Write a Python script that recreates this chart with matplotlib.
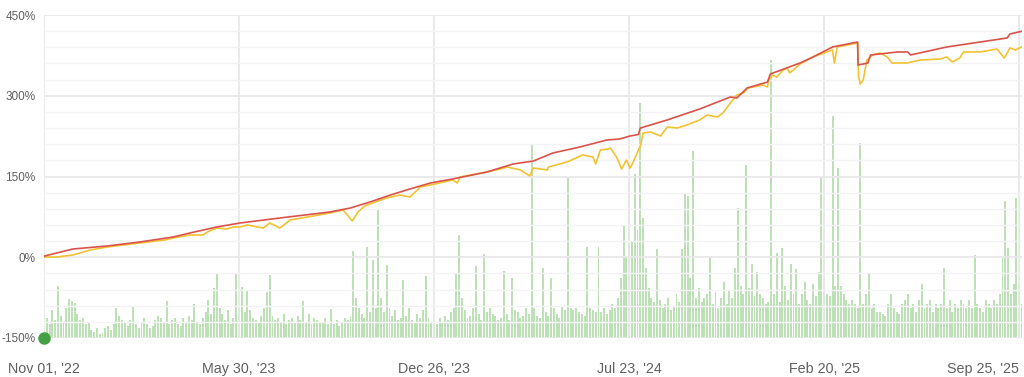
import numpy as np
import matplotlib.pyplot as plt

plt.rcParams['font.family'] = ['Liberation Sans', 'DejaVu Sans']

# x axis = day index since Nov 01, '22
tick_pos = [0, 210, 420, 630, 840, 1050]
tick_labels = ["Nov 01, '22", "May 30, '23", "Dec 26, '23", "Jul 23, '24", "Feb 20, '25", "Sep 25, '25"]

# balance growth (red), percent
red_day = [0, 31, 68, 103, 139, 157, 186, 211, 254, 308, 330, 351, 373, 394, 416, 440, 477,
           505, 527, 548, 577, 606, 620, 631, 640, 642, 671, 706, 739, 746, 757, 779, 782,
           814, 828, 849, 876, 876.5, 887, 890, 919, 930, 933, 972, 1037, 1040, 1054]
red_pct = [2, 15.3, 20.9, 28.3, 37.6, 45.0, 56.2, 63.6, 72.9, 84.1, 91.5, 102.6, 115.6, 126.8,
           137.9, 145.4, 158.4, 173.2, 178.8, 193.7, 204.8, 217.8, 219.7, 225.2, 228, 240,
           255, 275.4, 297.7, 295.8, 314.4, 325.5, 340.4, 360.8, 372, 390.6, 399.8, 357.1,
           360.8, 375.7, 381.3, 381.3, 375.7, 390.6, 407.3, 414.7, 420.3]

# equity growth (yellow), percent
yel_day = [0, 14, 31, 50, 68, 103, 130, 139, 157, 171, 176, 186, 197, 204, 211, 219, 236, 243,
           254, 265, 308, 322, 332, 338, 344, 348, 354, 369, 383, 394, 402, 405, 416, 440, 445,
           448, 477, 491, 499, 513, 523, 527, 542, 543, 563, 580, 591, 594, 599, 607, 610, 617,
           622, 627, 631, 634, 641, 642, 645, 653, 664, 671, 682, 692, 706, 714, 725, 731, 739,
           746, 753, 758, 774, 779, 780, 784, 789, 793, 796, 800, 803, 814, 828, 849, 851, 854,
           876, 877, 879, 882, 886, 892, 900, 908, 913, 929, 943, 965, 972, 978, 986, 990, 1008,
           1026, 1034, 1040, 1046, 1054]
yel_pct = [0.4, 0.4, 4.2, 13.5, 19.0, 26.5, 32.0, 35.7, 41.3, 41.3, 46.9, 54.3, 52.5, 56.2,
           56.2, 59.9, 54.3, 63.6, 54.3, 69.2, 82.2, 87.8, 67.3, 84.1, 93.3, 97.1, 100.8, 110.1,
           115.6, 111.9, 124.9, 130.5, 134.2, 143.5, 137.9, 149.1, 158.4, 163.9, 167.6, 162.1,
           151.0, 165.8, 162.1, 167.6, 176.9, 189.9, 186.2, 173.2, 199.2, 201.1, 202.9, 184.4,
           163.9, 180.6, 165.8, 175.1, 202.9, 204.8, 230.8, 232.7, 225.2, 241.9, 240.1, 245.7,
           255.0, 264.2, 260.5, 268.0, 286.5, 301.4, 305.1, 314.4, 320.0, 316.3, 327.4, 338.5,
           334.8, 342.3, 347.8, 351.5, 342.3, 359.0, 372.0, 385.0, 360.8, 390.6, 398.0, 334.8,
           321.8, 329.3, 366.4, 375.7, 379.4, 372.0, 360.8, 360.8, 366.4, 368.3, 372.0, 362.7,
           370.1, 381.3, 381.3, 386.8, 370.1, 388.7, 385.0, 392.4]

# activity bars, one every 3 days (arbitrary units)
bar_vals = [
    12, 20, 14, 28, 18, 52, 22, 16, 30, 39,
    37, 35, 24, 18, 20, 14, 16, 8, 6, 10,
    4, 5, 10, 12, 8, 14, 30, 22, 18, 16,
    12, 18, 32, 14, 10, 16, 20, 14, 10, 12,
    18, 22, 20, 16, 37, 14, 18, 20, 14, 12,
    20, 16, 22, 18, 34, 16, 14, 20, 26, 38,
    24, 50, 64, 30, 24, 18, 28, 14, 20, 64,
    30, 51, 26, 47, 28, 20, 18, 16, 22, 30,
    46, 63, 22, 18, 20, 16, 24, 14, 18, 20,
    16, 22, 18, 37, 16, 24, 14, 20, 18, 16,
    16, 20, 14, 29, 14, 18, 12, 16, 20, 18,
    22, 87, 40, 30, 24, 20, 91, 26, 78, 30,
    129, 40, 26, 73, 30, 22, 28, 18, 20, 58,
    22, 30, 18, 16, 24, 20, 28, 62, 20, 16,
    18, 14, 20, 16, 22, 18, 26, 30, 64, 103,
    40, 28, 20, 22, 30, 72, 24, 18, 84, 26,
    30, 24, 22, 18, 20, 67, 24, 18, 60, 28,
    26, 20, 22, 30, 24, 194, 30, 22, 20, 70,
    26, 22, 60, 30, 24, 20, 32, 28, 160, 30,
    28, 30, 26, 24, 22, 91, 30, 28, 26, 91,
    26, 30, 24, 28, 34, 30, 40, 60, 112, 80,
    155, 97, 164, 108, 235, 120, 70, 50, 40, 36,
    89, 38, 30, 34, 40, 28, 32, 44, 36, 89,
    145, 142, 60, 187, 40, 50, 36, 40, 44, 82,
    34, 46, 30, 40, 56, 34, 48, 40, 70, 130,
    52, 44, 173, 50, 74, 42, 66, 44, 40, 34,
    36, 278, 44, 85, 36, 90, 52, 38, 74, 44,
    69, 34, 44, 56, 38, 34, 54, 42, 66, 160,
    52, 44, 42, 222, 52, 170, 52, 44, 38, 34,
    38, 34, 30, 195, 34, 44, 65, 30, 34, 26,
    26, 24, 22, 34, 44, 30, 26, 24, 34, 38,
    44, 30, 34, 26, 38, 54, 30, 34, 38, 26,
    34, 30, 34, 70, 30, 38, 26, 34, 30, 38,
    34, 30, 38, 30, 83, 34, 30, 26, 38, 34,
    30, 38, 34, 44, 80, 137, 90, 44, 54, 140,
    54, 34, 26,
]
bar_day = np.arange(len(bar_vals)) * 3

fig = plt.figure(figsize=(10.24, 3.77), dpi=100)
ax = fig.add_axes([44 / 1024, 1 - 338 / 377, 978 / 1024, 323 / 377])
axb = ax.twinx()
ax.set_zorder(2)
axb.set_zorder(1)
ax.patch.set_visible(False)

axb.bar(bar_day, bar_vals, width=2.1, color='#bde0b6', edgecolor='none')
axb.set_ylim(0, 323)
axb.set_yticks([])
for s in axb.spines.values():
    s.set_visible(False)

ax.plot(yel_day, yel_pct, color='#f2c230', lw=1.2, zorder=3)
ax.plot(red_day, red_pct, color='#d9534a', lw=1.2, zorder=4)
ax.plot([0], [-150], 'o', color='#43a047', ms=8, zorder=5, clip_on=False)

ax.set_xlim(0, 1053)
ax.set_ylim(-150, 450)
ax.set_yticks([-150, 0, 150, 300, 450])
ax.set_yticklabels(['-150%', '0%', '150%', '300%', '450%'])
ax.set_yticks(np.arange(-150, 451, 30), minor=True)
ax.set_xticks(tick_pos)
ax.set_xticklabels(tick_labels)
ax.tick_params(axis='y', length=0, pad=6, labelsize=8.5, labelcolor='#606060')
ax.tick_params(axis='y', which='minor', length=0)
ax.tick_params(axis='x', length=0, pad=17, labelsize=10.3, labelcolor='#606060')
ax.xaxis.get_ticklabels()[-1].set_horizontalalignment('right')

ax.grid(True, which='major', color='#e8e8e8', lw=1.3)
ax.grid(True, which='minor', axis='y', color='#f3f3f3', lw=1.0)
for s in ax.spines.values():
    s.set_visible(False)

fig.savefig('out.png', dpi=100)
